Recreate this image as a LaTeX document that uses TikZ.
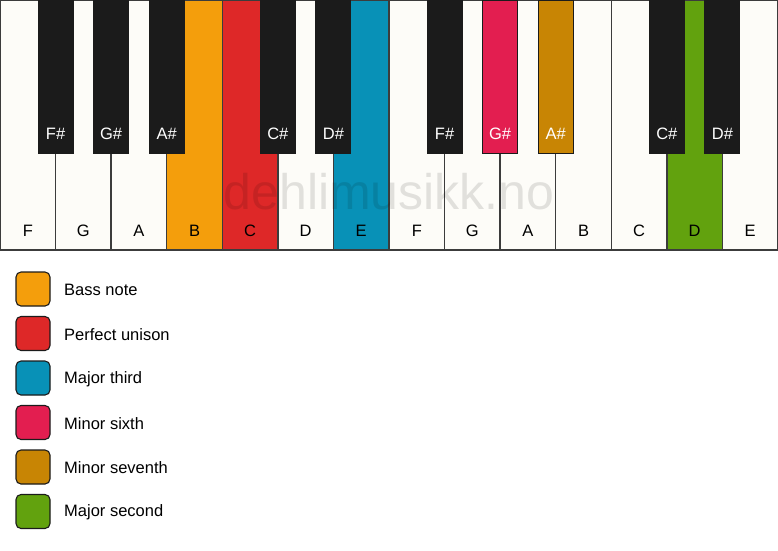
\documentclass[tikz,border=0pt]{standalone}
\usepackage{fontspec}
\setmainfont{Liberation Sans}
\usepackage{xcolor}
\usetikzlibrary{positioning}
\definecolor{ivory}{HTML}{FDFCF8}
\definecolor{keyblack}{HTML}{1B1B1B}
\definecolor{keyline}{HTML}{3C3C3C}
\definecolor{bassorange}{HTML}{F49E0C}
\definecolor{unisonred}{HTML}{DE2828}
\definecolor{thirdblue}{HTML}{0891B7}
\definecolor{sixthcrimson}{HTML}{E31E50}
\definecolor{seventhgold}{HTML}{C88504}
\definecolor{secondgreen}{HTML}{62A20E}

\begin{document}
\begin{tikzpicture}[x=1pt, y=-1pt, white key/.style={rectangle, draw=keyline, line width=1.4pt, fill=ivory, minimum width=55.57pt, minimum height=250pt, inner sep=0pt}, black key/.style={rectangle, draw=keyblack, line width=1pt, fill=keyblack, minimum width=35pt, minimum height=153pt, inner sep=0pt}, note/.style={font=\fontsize{16.5}{18}\selectfont, inner sep=0pt}, sharp/.style={note, text=white}, swatch/.style={rectangle, rounded corners=5pt, draw=keyblack, line width=1.1pt, minimum size=34pt, inner sep=0pt}, legend/.style={note, anchor=west}]
\useasboundingbox (0,0) rectangle (778,550);
% white keys
\node[white key] (w1) at (27.79,125) {};
\node[white key] (w2) at (83.36,125) {};
\node[white key] (w3) at (138.93,125) {};
\node[white key, fill=bassorange] (w4) at (194.50,125) {};
\node[white key, fill=unisonred] (w5) at (250.07,125) {};
\node[white key] (w6) at (305.64,125) {};
\node[white key, fill=thirdblue] (w7) at (361.21,125) {};
\node[white key] (w8) at (416.79,125) {};
\node[white key] (w9) at (472.36,125) {};
\node[white key] (w10) at (527.93,125) {};
\node[white key] (w11) at (583.50,125) {};
\node[white key] (w12) at (639.07,125) {};
\node[white key, fill=secondgreen] (w13) at (694.64,125) {};
\node[white key] (w14) at (750.21,125) {};
% black keys
\node[black key] (b1) at (55.57,76.5) {};
\node[black key] (b2) at (111.14,76.5) {};
\node[black key] (b3) at (166.71,76.5) {};
\node[black key] (b4) at (277.86,76.5) {};
\node[black key] (b5) at (333.43,76.5) {};
\node[black key] (b6) at (444.57,76.5) {};
\node[black key, fill=sixthcrimson] (b7) at (500.14,76.5) {};
\node[black key, fill=seventhgold] (b8) at (555.71,76.5) {};
\node[black key] (b9) at (666.86,76.5) {};
\node[black key] (b10) at (722.43,76.5) {};
% note names
\node[note] (n1) at (27.79,230.5) {F};
\node[note] (n2) at (83.36,230.5) {G};
\node[note] (n3) at (138.93,230.5) {A};
\node[note] (n4) at (194.50,230.5) {B};
\node[note] (n5) at (250.07,230.5) {C};
\node[note] (n6) at (305.64,230.5) {D};
\node[note] (n7) at (361.21,230.5) {E};
\node[note] (n8) at (416.79,230.5) {F};
\node[note] (n9) at (472.36,230.5) {G};
\node[note] (n10) at (527.93,230.5) {A};
\node[note] (n11) at (583.50,230.5) {B};
\node[note] (n12) at (639.07,230.5) {C};
\node[note] (n13) at (694.64,230.5) {D};
\node[note] (n14) at (750.21,230.5) {E};
\node[sharp] (s1) at (55.57,133.5) {F\#};
\node[sharp] (s2) at (111.14,133.5) {G\#};
\node[sharp] (s3) at (166.71,133.5) {A\#};
\node[sharp] (s4) at (277.86,133.5) {C\#};
\node[sharp] (s5) at (333.43,133.5) {D\#};
\node[sharp] (s6) at (444.57,133.5) {F\#};
\node[sharp] (s7) at (500.14,133.5) {G\#};
\node[sharp] (s8) at (555.71,133.5) {A\#};
\node[sharp] (s9) at (666.86,133.5) {C\#};
\node[sharp] (s10) at (722.43,133.5) {D\#};
% watermark
\node[font=\fontsize{50}{52}\selectfont, text=black, text opacity=0.11] (mark) at (389,192) {dehlimusikk.no};
% legend
\node[swatch, fill=bassorange] (k1) at (33,289) {};
\node[swatch, fill=unisonred] (k2) at (33,333.5) {};
\node[swatch, fill=thirdblue] (k3) at (33,378) {};
\node[swatch, fill=sixthcrimson] (k4) at (33,422.5) {};
\node[swatch, fill=seventhgold] (k5) at (33,467) {};
\node[swatch, fill=secondgreen] (k6) at (33,511.5) {};
\node[legend] (t1) at (64,290) {Bass note};
\node[legend] (t2) at (64,334.5) {Perfect unison};
\node[legend] (t3) at (64,379) {Major third};
\node[legend] (t4) at (64,423.5) {Minor sixth};
\node[legend] (t5) at (64,468) {Minor seventh};
\node[legend] (t6) at (64,512.5) {Major second};
\end{tikzpicture}
\end{document}
